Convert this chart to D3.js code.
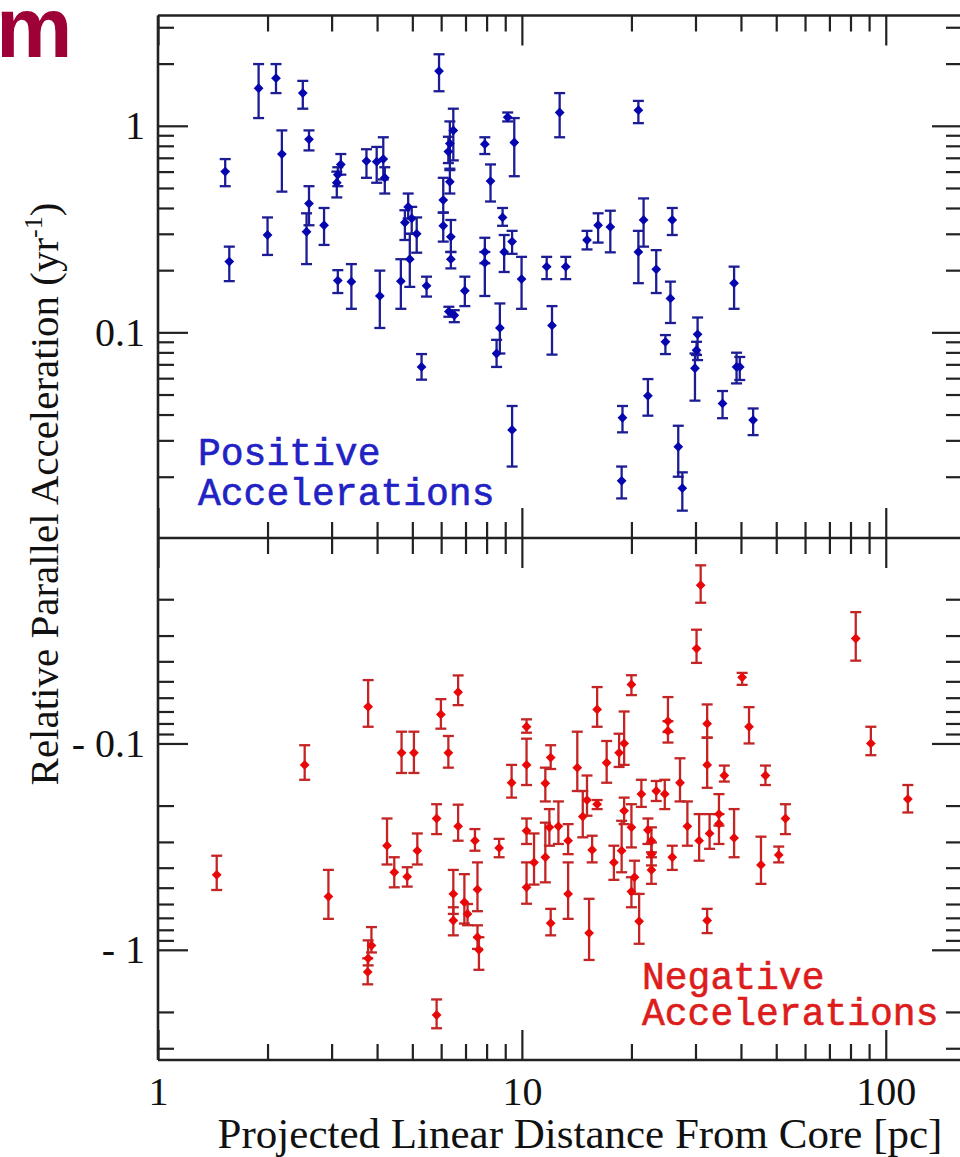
<!DOCTYPE html>
<html>
<head>
<meta charset="utf-8">
<script src="https://cdn.jsdelivr.net/npm/d3@7"></script>
<style>
  body { margin: 0; background: #fff; }
  svg text { font-family: "Liberation Serif", "Times New Roman", serif; fill: #111; }
  .tick line { stroke: #222; stroke-width: 2.2; }
  .domain { display: none; }
</style>
</head>
<body>
<script>
// positive accelerations (yr^-1) vs projected distance (pc)
var posDist = [1.53, 1.57, 1.89, 2.11, 2.50, 2.60, 2.19, 2.00, 2.60, 2.56, 2.86, 3.18, 3.12, 3.10,
  3.74, 3.99, 4.16, 4.20, 3.12, 3.40, 4.07, 4.65, 4.87, 4.77, 4.98, 5.14, 4.92, 5.47, 5.30,
  5.92, 6.48, 6.34, 6.28, 6.34, 6.08, 6.08, 6.38, 6.38, 6.30, 6.52, 6.97, 7.91, 8.20, 7.91,
  7.91, 8.85, 8.94, 9.40, 9.14, 9.53, 9.98, 8.70, 8.52, 9.40, 11.7, 13.2, 12.7, 12.1, 15.1,
  16.2, 17.5, 20.9, 20.9, 21.6, 23.4, 25.6, 25.9, 24.8, 30.4, 30.2, 29.9, 22.2, 18.9, 18.8,
  26.9, 27.6, 38.3, 38.9, 39.7, 35.6, 43.2];
var posAcc = [0.60, 0.22, 1.52, 1.70, 1.44, 0.86, 0.73, 0.296, 0.42, 0.307, 0.33, 0.65, 0.58, 0.53,
  0.675, 0.67, 0.69, 0.56, 0.178, 0.176, 0.150, 0.177, 0.405, 0.34, 0.356, 0.30, 0.226, 0.168, 0.068,
  1.84, 0.95, 0.82, 0.75, 0.536, 0.437, 0.328, 0.29, 0.226, 0.126, 0.121, 0.159, 0.815, 0.54, 0.245,
  0.217, 0.36, 0.245, 0.275, 1.10, 0.83, 0.181, 0.105, 0.079, 0.0337, 0.208, 0.208, 1.16, 0.108, 0.28,
  0.33, 0.324, 1.19, 0.245, 0.35, 0.202, 0.146, 0.35, 0.090, 0.0978, 0.082, 0.067, 0.0493, 0.0386, 0.0191,
  0.0279, 0.0176, 0.173, 0.068, 0.068, 0.0453, 0.0376];
var posLo = [0.51, 0.177, 1.09, 1.44, 1.21, 0.76, 0.48, 0.237, 0.33, 0.214, 0.265, 0.58, 0.51, 0.45,
  0.56, 0.53, 0.55, 0.47, 0.155, 0.13, 0.105, 0.13, 0.356, 0.28, 0.30, 0.243, 0.166, 0.149, 0.059,
  1.47, 0.68, 0.61, 0.66, 0.47, 0.38, 0.275, 0.245, 0.204, 0.119, 0.112, 0.134, 0.73, 0.43, 0.216,
  0.150, 0.328, 0.196, 0.24, 1.05, 0.57, 0.13, 0.079, 0.068, 0.0224, 0.181, 0.181, 0.88, 0.078, 0.252,
  0.272, 0.244, 1.03, 0.173, 0.26, 0.155, 0.111, 0.296, 0.0785, 0.0734, 0.0777, 0.0467, 0.0395, 0.0328, 0.0157,
  0.020, 0.0137, 0.13, 0.0566, 0.0588, 0.0384, 0.0318];
var posHi = [0.69, 0.26, 1.99, 1.99, 1.65, 0.95, 0.95, 0.36, 0.51, 0.377, 0.40, 0.73, 0.63, 0.60,
  0.77, 0.79, 0.88, 0.63, 0.20, 0.214, 0.199, 0.226, 0.47, 0.39, 0.405, 0.36, 0.30, 0.186, 0.0785,
  2.22, 1.21, 1.05, 0.885, 0.62, 0.56, 0.38, 0.35, 0.245, 0.133, 0.128, 0.186, 0.88, 0.65, 0.287,
  0.245, 0.40, 0.296, 0.31, 1.16, 1.09, 0.232, 0.138, 0.092, 0.044, 0.232, 0.232, 1.44, 0.134, 0.31,
  0.377, 0.388, 1.32, 0.31, 0.445, 0.25, 0.176, 0.40, 0.097, 0.118, 0.090, 0.079, 0.0594, 0.044, 0.0224,
  0.0353, 0.021, 0.208, 0.0797, 0.076, 0.052, 0.0428];

// negative accelerations
var negDist = [1.45, 2.53, 2.94, 3.78, 4.67, 5.05, 4.26, 4.46, 4.84, 5.16, 3.86, 3.78, 3.77, 5.83,
  5.99, 6.68, 6.28, 5.83, 6.68, 7.43, 8.66, 6.48, 6.48, 6.95, 7.09, 7.55, 7.55, 7.62, 9.37,
  10.3, 10.3, 10.3, 10.3, 10.8, 12.0, 11.6, 11.9, 12.6, 11.6, 12.0, 13.4, 13.4, 14.2, 15.1,
  14.7, 16.1, 15.6, 15.3, 16.1, 17.1, 18.5, 19.1, 20.0, 19.1, 20.0, 18.8, 17.9, 20.4, 20.0,
  21.0, 21.3, 22.2, 22.7, 22.7, 22.7, 23.4, 24.7, 25.9, 27.2, 28.5, 25.2, 25.2, 30.2, 31.0,
  32.3, 32.3, 30.7, 32.8, 34.8, 34.8, 32.3, 36.0, 38.3, 40.3, 42.1, 46.7, 45.4, 50.8, 53.0,
  82.7, 91.0, 115];
var negAcc = [-0.433, -0.127, -0.552, -0.0664, -0.111, -0.111, -0.313, -0.421, -0.442, -0.331, -0.953, -1.10, -1.28, -2.07,
  -0.0723, -0.0564, -0.111, -0.231, -0.252, -0.296, -0.321, -0.536, -0.721, -0.588, -0.67, -0.510, -0.869, -1.0, -0.155,
  -0.083, -0.127, -0.265, -0.498, -0.377, -0.117, -0.156, -0.255, -0.252, -0.356, -0.743, -0.296, -0.536, -0.131, -0.188,
  -0.226, -0.197, -0.328, -0.830, -0.0684, -0.124, -0.111, -0.100, -0.0518, -0.212, -0.255, -0.331, -0.377, -0.445, -0.522,
  -0.728, -0.176, -0.263, -0.296, -0.344, -0.41, -0.170, -0.176, -0.356, -0.155, -0.252, -0.078, -0.087, -0.0347, -0.0171,
  -0.0802, -0.127, -0.296, -0.273, -0.22, -0.245, -0.721, -0.143, -0.287, -0.0478, -0.083, -0.143, -0.388, -0.347, -0.231,
  -0.031, -0.100, -0.186];
var negLo = [-0.35, -0.102, -0.41, -0.0493, -0.0877, -0.0877, -0.231, -0.356, -0.398, -0.273, -0.776, -0.90, -1.10, -1.74,
  -0.061, -0.0468, -0.092, -0.197, -0.198, -0.26, -0.29, -0.41, -0.622, -0.43, -0.60, -0.377, -0.761, -0.869, -0.127,
  -0.0764, -0.0948, -0.231, -0.377, -0.273, -0.102, -0.131, -0.208, -0.191, -0.242, -0.633, -0.246, -0.377, -0.0877, -0.143,
  -0.170, -0.188, -0.28, -0.566, -0.0533, -0.0973, -0.0897, -0.070, -0.0467, -0.183, -0.197, -0.237, -0.313, -0.37, -0.445,
  -0.536, -0.150, -0.231, -0.255, -0.302, -0.356, -0.152, -0.150, -0.313, -0.118, -0.191, -0.0596, -0.078, -0.0281, -0.0137,
  -0.0647, -0.0937, -0.22, -0.22, -0.176, -0.22, -0.633, -0.128, -0.208, -0.0455, -0.0667, -0.128, -0.283, -0.316, -0.197,
  -0.0231, -0.083, -0.159];
var negHi = [-0.513, -0.150, -0.708, -0.083, -0.139, -0.139, -0.386, -0.498, -0.494, -0.386, -1.03, -1.19, -1.47, -2.40,
  -0.0848, -0.0652, -0.131, -0.275, -0.296, -0.331, -0.356, -0.67, -0.851, -0.746, -0.76, -0.650, -0.99, -1.25, -0.183,
  -0.0887, -0.159, -0.307, -0.598, -0.483, -0.133, -0.191, -0.313, -0.307, -0.471, -0.851, -0.344, -0.708, -0.170, -0.224,
  -0.285, -0.208, -0.377, -1.12, -0.083, -0.155, -0.130, -0.127, -0.0583, -0.246, -0.319, -0.421, -0.458, -0.536, -0.622,
  -0.935, -0.203, -0.307, -0.337, -0.39, -0.479, -0.19, -0.208, -0.41, -0.191, -0.313, -0.088, -0.099, -0.0407, -0.0208,
  -0.0937, -0.164, -0.37, -0.324, -0.25, -0.307, -0.83, -0.153, -0.356, -0.052, -0.1, -0.159, -0.479, -0.377, -0.275,
  -0.0397, -0.114, -0.216];

// ticks
var xMajor = [1, 10, 100];
var xMinor = [2, 3, 4, 5, 6, 7, 8, 9, 20, 30, 40, 50, 60, 70, 80, 90];
var posMajor = [0.1, 1];
var posMinor = [0.02, 0.03, 0.04, 0.05, 0.06, 0.07, 0.08, 0.09, 0.2, 0.3, 0.4, 0.5, 0.6, 0.7, 0.8, 0.9, 2, 3];
var negMajor = [-0.1, -1];
var negMinor = posMinor.map(function (d) { return -d; });

var W = 960, H = 1157;
var pLeft = 158, pRight = 962, pTop = 15.5, pMid = 538, pBottom = 1060;

var svg = d3.select("body").append("svg")
  .attr("width", W).attr("height", H);

svg.append("rect").attr("width", W).attr("height", H).attr("fill", "#fff");

var x = d3.scaleLog().domain([1, 162]).range([pLeft, pRight]);
var yPos = d3.scaleLog().domain([0.0101, 3.42]).range([pMid, pTop]);
var yNeg = d3.scaleLog().domain([-0.0101, -3.42]).range([pMid, pBottom]);

function fmt(d) { return d < 0 ? "- " + (-d) : "" + d; }

// y axes, both panels
[[yPos, posMajor, posMinor], [yNeg, negMajor, negMinor]].forEach(function (p) {
  var y = p[0];
  svg.append("g").attr("transform", "translate(" + pLeft + ",0)")
    .call(d3.axisLeft(y).tickValues(p[1]).tickSize(-30).tickPadding(13).tickFormat(fmt))
    .selectAll("text").style("font-size", "40px");
  svg.append("g").attr("transform", "translate(" + pLeft + ",0)")
    .call(d3.axisLeft(y).tickValues(p[2]).tickSize(-16).tickFormat(""));
  svg.append("g").attr("transform", "translate(" + pRight + ",0)")
    .call(d3.axisRight(y).tickValues(p[1]).tickSize(-30).tickFormat(""));
  svg.append("g").attr("transform", "translate(" + pRight + ",0)")
    .call(d3.axisRight(y).tickValues(p[2]).tickSize(-16).tickFormat(""));
});

// x ticks on every horizontal edge, pointing inward
function xTicks(gen, ypos, labels) {
  var a = svg.append("g").attr("transform", "translate(0," + ypos + ")")
    .call(gen(x).tickValues(xMajor).tickSize(-30).tickPadding(17)
      .tickFormat(labels ? d3.format("d") : ""));
  a.selectAll("text").style("font-size", "40px");
  svg.append("g").attr("transform", "translate(0," + ypos + ")")
    .call(gen(x).tickValues(xMinor).tickSize(-16).tickFormat(""));
}
xTicks(d3.axisTop, pTop, false);
xTicks(d3.axisBottom, pMid, false);
xTicks(d3.axisTop, pMid, false);
xTicks(d3.axisBottom, pBottom, true);

// frame
svg.append("g").attr("stroke", "#222").attr("stroke-width", 2.6).attr("fill", "none")
  .selectAll("line")
  .data([[pLeft, pTop, pRight, pTop], [pLeft, pMid, pRight, pMid], [pLeft, pBottom, pRight, pBottom], [pLeft, pTop, pLeft, pBottom]])
  .join("line")
  .attr("x1", function (d) { return d[0]; }).attr("y1", function (d) { return d[1]; })
  .attr("x2", function (d) { return d[2]; }).attr("y2", function (d) { return d[3]; });

// error bars + diamonds
function points(dist, acc, lo, hi, y, barColor, dotColor) {
  var g = svg.append("g");
  var idx = d3.range(dist.length);
  var bars = g.selectAll(".eb").data(idx).join("g").attr("class", "eb")
    .attr("stroke", barColor).attr("stroke-width", 2.3);
  bars.append("line")
    .attr("x1", function (i) { return x(dist[i]); }).attr("x2", function (i) { return x(dist[i]); })
    .attr("y1", function (i) { return y(lo[i]); }).attr("y2", function (i) { return y(hi[i]); });
  [lo, hi].forEach(function (arr) {
    bars.append("line")
      .attr("x1", function (i) { return x(dist[i]) - 5.5; }).attr("x2", function (i) { return x(dist[i]) + 5.5; })
      .attr("y1", function (i) { return y(arr[i]); }).attr("y2", function (i) { return y(arr[i]); });
  });
  g.selectAll(".dot").data(idx).join("path").attr("class", "dot")
    .attr("d", d3.symbol(d3.symbolSquare, 48))
    .attr("fill", dotColor)
    .attr("transform", function (i) { return "translate(" + x(dist[i]) + "," + y(acc[i]) + ") rotate(45)"; });
}
points(posDist, posAcc, posLo, posHi, yPos, "#1c1c94", "#0606b0");
points(negDist, negAcc, negLo, negHi, yNeg, "#c42424", "#e80808");

// panel notes
function note(lines, xp, ys, color) {
  svg.append("g").selectAll("text").data(lines).join("text")
    .attr("x", xp).attr("y", function (d, i) { return ys[i]; })
    .style("font-family", "'Liberation Mono', 'Courier New', monospace")
    .style("font-size", "38px")
    .style("fill", color)
    .attr("stroke", color).attr("stroke-width", 0.6)
    .text(function (d) { return d; });
}
note(["Positive", "Accelerations"], 198, [465, 505], "#2222c4");
note(["Negative", "Accelerations"], 642, [989, 1025], "#dd1c1c");

// axis titles
svg.append("text")
  .attr("x", 580).attr("y", 1148)
  .attr("text-anchor", "middle")
  .style("font-size", "43px")
  .text("Projected Linear Distance From Core [pc]");

var yt = svg.append("text")
  .attr("transform", "translate(58,494) rotate(-90)")
  .attr("text-anchor", "middle")
  .style("font-size", "41px");
yt.append("tspan").text("Relative Parallel Acceleration (yr");
yt.append("tspan").attr("dy", -16).style("font-size", "26px").text("-1");
yt.append("tspan").attr("dy", 16).text(")");

// cropped heading letter at the top-left corner
svg.append("text")
  .attr("x", -4).attr("y", 57)
  .style("font-family", "'Liberation Sans', Arial, sans-serif")
  .style("font-weight", "bold")
  .style("font-size", "86px")
  .style("fill", "#9e0038")
  .text("m");
</script>
</body>
</html>
